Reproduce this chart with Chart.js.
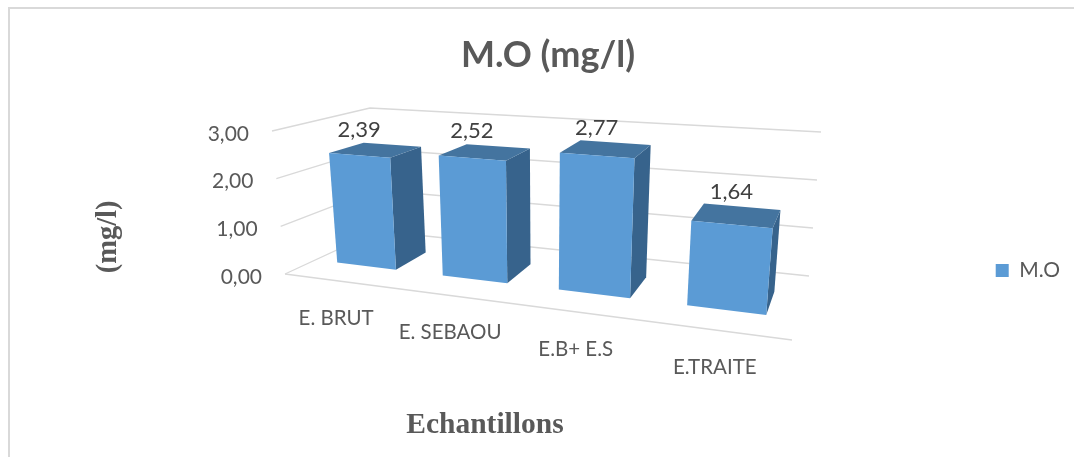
<!DOCTYPE html>
<html>
<head>
<meta charset="utf-8">
<script src="https://cdn.jsdelivr.net/npm/chart.js@4"></script>
<style>
html, body { margin: 0; background: #fff; overflow: hidden; }
#frame { position: absolute; left: 8px; top: 7px; width: 1065px; height: 450px; border-left: 2px solid #d9d9d9; border-top: 2px solid #d9d9d9; }
#chart { position: absolute; left: 10px; top: 9px; display: block; }
</style>
</head>
<body>
<div id="frame"></div>
<canvas id="chart" width="1076" height="498"></canvas>
<script>
const categories = ['E. BRUT', 'E. SEBAOU', 'E.B+ E.S', 'E.TRAITE'];
const moValues = [2.39, 2.52, 2.77, 1.64];
const valueTicks = [0, 1, 2, 3];

const frontColor = '#5B9BD5';
const topColor = '#44749F';
const sideColor = '#37638C';
const gridColor = '#d9d9d9';

// box corners of the 3D plot, in canvas pixels: floor first, then the top
const box = {
    fl0: [275, 265], fr0: [782, 331], bl0: [368, 222], br0: [799, 267],
    fl1: [262, 122], fr1: [796, 163], bl1: [360, 99], br1: [811, 123]
};
const perspective = 1.22;  // bars get wider towards the right
const barFront = 0.33;
const barBack = 0.7;

let plotArea = null;

function lerp(a, b, t) { return a + (b - a) * t; }

// u, v, w are all 0..1: along the categories, up the values, into the depth
function project(u, v, w) {
    const s = u / (u + perspective * (1 - u));
    const out = [];
    for (let i = 0; i < 2; i++) {
        const floor = lerp(lerp(box.fl0[i], box.fr0[i], s), lerp(box.bl0[i], box.br0[i], s), w);
        const roof = lerp(lerp(box.fl1[i], box.fr1[i], s), lerp(box.bl1[i], box.br1[i], s), w);
        out.push(lerp(floor, roof, v));
    }
    return out;
}

function poly(ctx, pts, fill) {
    ctx.beginPath();
    pts.forEach((p, i) => i ? ctx.lineTo(p[0], p[1]) : ctx.moveTo(p[0], p[1]));
    ctx.closePath();
    ctx.fillStyle = fill;
    ctx.fill();
}

// bars keep their Chart.js layout, only the painting goes through project()
class Bar3D extends Chart.BarElement {
    draw(ctx) {
        const area = plotArea;
        const props = this.getProps(['x', 'y', 'base', 'width'], true);
        const u0 = (props.x - props.width / 2 - area.left) / area.width;
        const u1 = (props.x + props.width / 2 - area.left) / area.width;
        const v0 = (area.bottom - props.base) / area.height;
        const v1 = (area.bottom - props.y) / area.height;
        poly(ctx, [project(u1, v0, barFront), project(u1, v0, barBack), project(u1, v1, barBack), project(u1, v1, barFront)], sideColor);
        poly(ctx, [project(u0, v1, barFront), project(u1, v1, barFront), project(u1, v1, barBack), project(u0, v1, barBack)], topColor);
        poly(ctx, [project(u0, v0, barFront), project(u1, v0, barFront), project(u1, v1, barFront), project(u0, v1, barFront)], frontColor);
    }
}
Bar3D.id = 'bar3d';
Bar3D.defaults = Chart.BarElement.defaults;
Bar3D.defaultRoutes = Chart.BarElement.defaultRoutes;

class Bar3DController extends Chart.BarController {}
Bar3DController.id = 'bar3d';
Bar3DController.defaults = Object.assign({}, Chart.BarController.defaults, { dataElementType: 'bar3d' });
Bar3DController.overrides = Chart.BarController.overrides;

Chart.register(Bar3D, Bar3DController);

// walls, floor and the tick labels, which sit on the slanted edges of the box
const wallsPlugin = {
    id: 'walls',
    beforeDatasetsDraw(chart) {
        const ctx = chart.ctx;
        const yScale = chart.scales.y;
        const xScale = chart.scales.x;
        const area = chart.chartArea;
        plotArea = area;
        ctx.save();
        ctx.strokeStyle = gridColor;
        ctx.lineWidth = 1.3;
        yScale.ticks.forEach(t => {
            const v = (area.bottom - yScale.getPixelForValue(t.value)) / area.height;
            const a = project(0, v, 0), b = project(0, v, 1), c = project(1, v, 1);
            ctx.beginPath();
            ctx.moveTo(a[0], a[1]);
            ctx.lineTo(b[0], b[1]);
            ctx.lineTo(c[0], c[1]);
            ctx.stroke();
            ctx.fillStyle = '#595959';
            ctx.font = '21px Lato';
            ctx.textAlign = 'right';
            ctx.textBaseline = 'middle';
            ctx.fillText(t.value.toFixed(2).replace('.', ','), a[0] - 23, a[1] + 3);
        });
        const f0 = project(0, 0, 0), f1 = project(1, 0, 0);
        ctx.beginPath();
        ctx.moveTo(f0[0], f0[1]);
        ctx.lineTo(f1[0], f1[1]);
        ctx.stroke();
        categories.forEach((name, i) => {
            const u = (xScale.getPixelForValue(i) - area.left) / area.width;
            const p = project(u, 0, 0);
            ctx.fillStyle = '#595959';
            ctx.font = '20.5px Lato';
            ctx.textAlign = 'center';
            ctx.textBaseline = 'middle';
            ctx.fillText(name, p[0] - 2, p[1] + 37);
        });
        ctx.restore();
    },
    afterDatasetsDraw(chart) {
        const ctx = chart.ctx;
        const area = chart.chartArea;
        ctx.save();
        ctx.fillStyle = '#404040';
        ctx.font = '22px Lato';
        ctx.textAlign = 'center';
        ctx.textBaseline = 'middle';
        chart.getDatasetMeta(0).data.forEach((bar, i) => {
            const u = (bar.x - area.left) / area.width;
            const v = (area.bottom - bar.y) / area.height;
            const front = project(u, v, barFront);
            const back = project(u, v, barBack);
            ctx.fillText(moValues[i].toFixed(2).replace('.', ','), front[0], back[1] - 15);
        });
        ctx.restore();
    }
};

new Chart(document.getElementById('chart'), {
    type: 'bar3d',
    data: {
        labels: categories,
        datasets: [{
            label: 'M.O',
            data: moValues,
            backgroundColor: frontColor,
            borderWidth: 0,
            clip: false,
            categoryPercentage: 0.8,
            barPercentage: 0.71
        }]
    },
    options: {
        responsive: false,
        animation: false,
        layout: { padding: { left: 0, top: 25, right: 0, bottom: 0 } },
        plugins: {
            title: {
                display: true,
                text: 'M.O (mg/l)',
                color: '#595959',
                font: { family: 'Lato', size: 36, weight: 'bold' },
                padding: { top: 0, bottom: 18 }
            },
            legend: {
                position: 'right',
                labels: {
                    color: '#595959',
                    font: { family: 'Lato', size: 21 },
                    boxWidth: 13,
                    boxHeight: 13,
                    padding: 10
                }
            },
            tooltip: { enabled: false }
        },
        scales: {
            x: {
                grid: { display: false },
                border: { display: false },
                ticks: { display: false },
                title: {
                    display: true,
                    text: 'Echantillons',
                    color: '#595959',
                    font: { family: 'Liberation Serif', size: 29.5, weight: 'bold' },
                    padding: { top: 21, bottom: 64 }
                }
            },
            y: {
                min: 0,
                max: 3,
                grid: { display: false },
                border: { display: false },
                ticks: { display: false, stepSize: 1 },
                afterBuildTicks(scale) { scale.ticks = valueTicks.map(value => ({ value })); },
                title: {
                    display: true,
                    text: '(mg/l)',
                    color: '#595959',
                    font: { family: 'Liberation Serif', size: 28.5, weight: 'bold' },
                    padding: { top: 82, bottom: 0 }
                }
            },
            // empty axis that holds the plot area away from the legend
            spacer: {
                type: 'linear',
                position: 'right',
                grid: { display: false },
                border: { display: false },
                ticks: { display: false },
                afterFit(scale) { scale.width = 150; }
            },
            // and one outside the legend, so the legend clears the right edge
            legendGap: {
                type: 'linear',
                position: 'right',
                weight: 2000,
                grid: { display: false },
                border: { display: false },
                ticks: { display: false },
                afterFit(scale) { scale.width = 16; }
            }
        }
    },
    plugins: [wallsPlugin]
});
</script>
</body>
</html>
